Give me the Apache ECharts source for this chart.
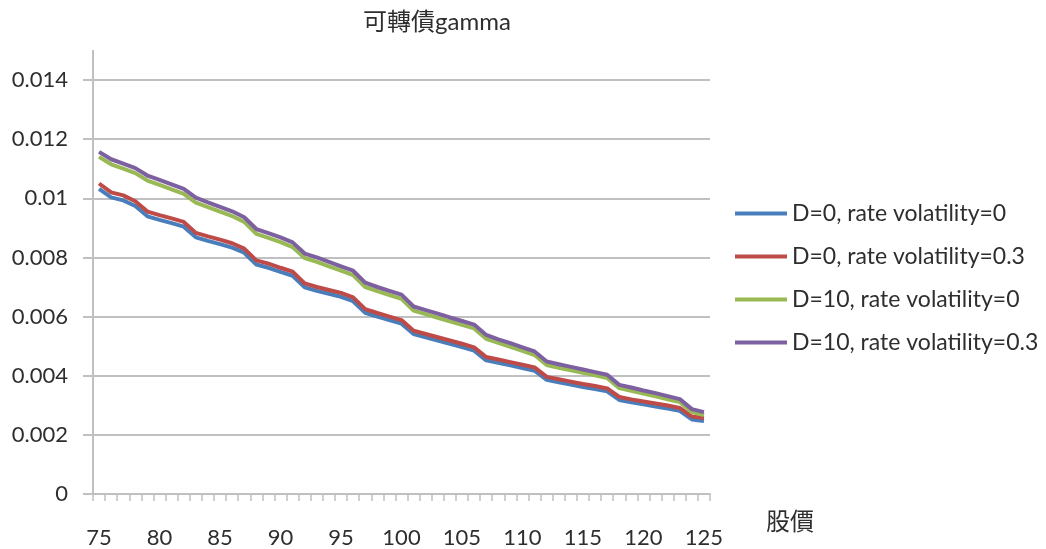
<!DOCTYPE html>
<html>
<head>
<meta charset="utf-8">
<title>可轉債gamma</title>
<script src="https://cdn.jsdelivr.net/npm/echarts@6/dist/echarts.min.js"></script>
<style>
  html, body { margin: 0; padding: 0; background: #ffffff; }
  #chart { width: 1046px; height: 549px; }
</style>
</head>
<body>
<div id="chart"></div>
<script>
// Stock price (股價) categories, 75 .. 125
const prices = [75,76,77,78,79,80,81,82,83,84,85,86,87,88,89,90,91,92,93,94,95,96,97,98,99,100,
  101,102,103,104,105,106,107,108,109,110,111,112,113,114,115,116,117,118,119,120,121,122,123,124,125];

// Gamma of the convertible bond for each scenario
const d0Vol0 = [0.01032,0.01003,0.00993,0.00974,0.00939,0.00927,0.00916,0.00904,0.00868,0.00856,
  0.00845,0.00833,0.00816,0.00776,0.00765,0.00751,0.00738,0.00699,0.00687,0.00677,
  0.00667,0.00652,0.00613,0.00600,0.00588,0.00576,0.00541,0.00530,0.00519,0.00508,
  0.00497,0.00485,0.00452,0.00444,0.00435,0.00426,0.00417,0.00386,0.00378,0.00370,
  0.00362,0.00355,0.00347,0.00318,0.00310,0.00303,0.00296,0.00289,0.00281,0.00252,0.00247];

const d0Vol03 = [0.01050,0.01020,0.01010,0.00990,0.00955,0.00943,0.00932,0.00920,0.00883,0.00871,
  0.00860,0.00848,0.00830,0.00790,0.00779,0.00765,0.00752,0.00712,0.00700,0.00690,
  0.00680,0.00665,0.00625,0.00612,0.00600,0.00588,0.00552,0.00541,0.00530,0.00519,
  0.00508,0.00496,0.00463,0.00455,0.00446,0.00437,0.00428,0.00396,0.00388,0.00380,
  0.00372,0.00365,0.00357,0.00328,0.00320,0.00313,0.00306,0.00299,0.00291,0.00262,0.00257];

const d10Vol0 = [0.01140,0.01115,0.01100,0.01085,0.01060,0.01045,0.01030,0.01015,0.00985,0.00970,
  0.00955,0.00940,0.00920,0.00880,0.00866,0.00852,0.00835,0.00798,0.00785,0.00770,
  0.00755,0.00740,0.00700,0.00686,0.00673,0.00660,0.00620,0.00608,0.00596,0.00584,
  0.00572,0.00560,0.00525,0.00511,0.00498,0.00484,0.00470,0.00436,0.00427,0.00418,
  0.00410,0.00401,0.00392,0.00358,0.00349,0.00340,0.00330,0.00320,0.00311,0.00277,0.00267];

const d10Vol03 = [0.01157,0.01132,0.01117,0.01102,0.01077,0.01062,0.01047,0.01032,0.01002,0.00986,
  0.00971,0.00956,0.00936,0.00896,0.00882,0.00868,0.00851,0.00813,0.00800,0.00785,
  0.00770,0.00755,0.00715,0.00700,0.00687,0.00674,0.00634,0.00622,0.00610,0.00597,
  0.00585,0.00573,0.00538,0.00523,0.00510,0.00496,0.00482,0.00448,0.00439,0.00430,
  0.00421,0.00412,0.00403,0.00369,0.00360,0.00350,0.00341,0.00331,0.00321,0.00287,0.00277];

const seriesNames = [
  'D=0, rate volatility=0',
  'D=0, rate volatility=0.3',
  'D=10, rate volatility=0',
  'D=10, rate volatility=0.3'
];
const seriesData = [d0Vol0, d0Vol03, d10Vol0, d10Vol03];
const colors = ['#4a7ebb', '#be4b48', '#98b954', '#7d60a0'];

// Layout of the plot area
const GRID_LEFT = 93, GRID_TOP = 80, GRID_RIGHT = 336, GRID_BOTTOM = 55;
const AXIS_GRAY = '#c0c0c0';
const TEXT = '#2e2e2e';
const LATIN = 'Lato, "Noto Sans CJK TC", sans-serif';

const chart = echarts.init(document.getElementById('chart'), null, { renderer: 'canvas' });

chart.setOption({
  animation: false,
  backgroundColor: '#ffffff',
  color: colors,
  title: {
    text: '可轉債gamma',
    left: 358,
    top: 5,
    textStyle: { fontFamily: LATIN, fontSize: 24, fontWeight: 'normal', color: TEXT }
  },
  legend: {
    orient: 'vertical',
    left: 735,
    top: 202,
    padding: 0,
    itemWidth: 52,
    itemHeight: 4,
    itemGap: 20,
    icon: 'rect',
    data: seriesNames,
    textStyle: { fontFamily: LATIN, fontSize: 23, color: TEXT }
  },
  grid: { left: GRID_LEFT, top: GRID_TOP, right: GRID_RIGHT, bottom: GRID_BOTTOM, containLabel: false },
  xAxis: {
    type: 'category',
    data: prices,
    boundaryGap: true,
    name: '股價',
    nameLocation: 'end',
    nameGap: 56,
    nameTextStyle: { fontFamily: LATIN, fontSize: 24, color: TEXT, verticalAlign: 'top', padding: [16, 0, 0, 0] },
    axisLine: { lineStyle: { color: AXIS_GRAY, width: 2 } },
    axisTick: { show: true, interval: 0, length: 7, inside: false, lineStyle: { color: AXIS_GRAY, width: 1.5 } },
    axisLabel: { interval: 4, margin: 33, fontFamily: LATIN, fontSize: 22, color: TEXT },
    splitLine: { show: false }
  },
  yAxis: {
    type: 'value',
    min: 0,
    max: 0.014,
    interval: 0.002,
    axisLine: { show: true, lineStyle: { color: AXIS_GRAY, width: 2 } },
    axisTick: { show: true, length: 10, lineStyle: { color: AXIS_GRAY, width: 2 } },
    axisLabel: { margin: 25, fontFamily: LATIN, fontSize: 22, color: TEXT,
      formatter: v => String(Number(v.toFixed(3))) },
    splitLine: { show: true, lineStyle: { color: AXIS_GRAY, width: 2 } }
  },
  // the vertical axis line continues a little above the top gridline
  graphic: [{
    type: 'line',
    shape: { x1: GRID_LEFT, y1: 50, x2: GRID_LEFT, y2: GRID_TOP },
    style: { stroke: AXIS_GRAY, lineWidth: 2 },
    silent: true
  }],
  series: seriesNames.map((name, i) => ({
    name: name,
    type: 'line',
    data: seriesData[i],
    symbol: 'none',
    smooth: false,
    lineStyle: { width: 4, color: colors[i] },
    itemStyle: { color: colors[i] },
    z: 2 + i
  }))
});
</script>
</body>
</html>
